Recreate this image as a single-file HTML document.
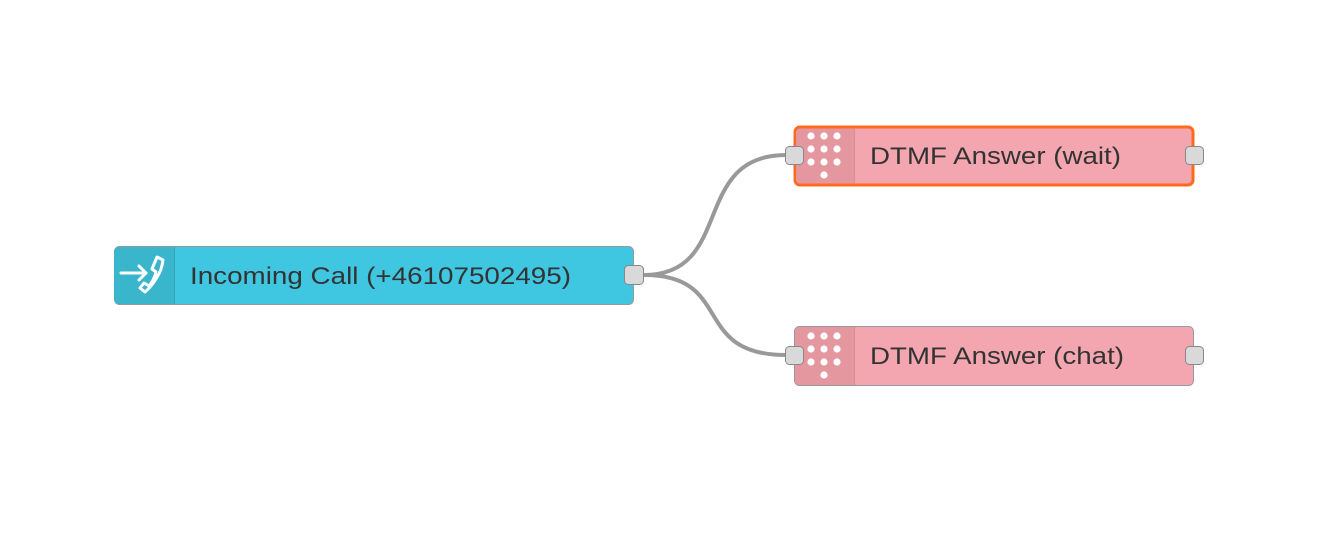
<!DOCTYPE html>
<html><head><meta charset="utf-8"><style>
html,body{margin:0;padding:0;background:#fff;width:1342px;height:538px;overflow:hidden}
text{font-family:"Liberation Sans",Helvetica,Arial,sans-serif}
</style></head><body>
<svg width="1342" height="538" viewBox="0 0 1342 538" xmlns="http://www.w3.org/2000/svg">
<g fill="none" stroke="#999" stroke-width="4">
<path d="M644,275 C 735,275 690,155 786,155"/>
<path d="M644,275 C 735,275 690,355 786,355"/>
</g>
<!-- Incoming call -->
<rect x="114.5" y="246.5" width="519" height="58" rx="5" fill="#3fc6e0" stroke="#999" stroke-width="1"/>
<path d="M119,247 h55 v57 h-55 a5,5 0 0 1 -5,-5 v-47 a5,5 0 0 1 5,-5z" fill="#39b5cc"/>
<line x1="174.5" y1="247" x2="174.5" y2="304" stroke="#33a6bc"/>
<g stroke="#fff" stroke-width="3" fill="none" stroke-linecap="round" stroke-linejoin="round">
<line x1="121" y1="273" x2="146" y2="273"/>
<polyline points="139,266 146,273 139,280"/>
<path d="M157,257 l6,3 q-1,10 -7,19 q-5,8 -11,13 l-5,-4 l4,-5 l5,3 q5,-6 7,-14 l-4,-3z"/>
</g>
<text x="190" y="284" font-size="24" fill="#333" textLength="381" lengthAdjust="spacingAndGlyphs">Incoming Call (+46107502495)</text>
<rect x="624.5" y="265.5" width="19" height="19" rx="4" fill="#d9d9d9" stroke="#888"/>
<!-- DTMF wait -->
<rect x="795" y="127" width="398" height="58" rx="5" fill="#f4a6b0" stroke="#ff6b1e" stroke-width="3"/>
<path d="M800,128.5 h54 v55 h-54 a4,4 0 0 1 -4,-4 v-47 a4,4 0 0 1 4,-4z" fill="#e5979f"/>
<line x1="854.5" y1="128" x2="854.5" y2="184" stroke="#d98c95"/>
<g fill="#fff">
<circle cx="811" cy="136" r="3.6"/><circle cx="824" cy="136" r="3.6"/><circle cx="837" cy="136" r="3.6"/>
<circle cx="811" cy="149" r="3.6"/><circle cx="824" cy="149" r="3.6"/><circle cx="837" cy="149" r="3.6"/>
<circle cx="811" cy="162" r="3.6"/><circle cx="824" cy="162" r="3.6"/><circle cx="837" cy="162" r="3.6"/>
<circle cx="824" cy="175" r="3.6"/>
</g>
<text x="870" y="164" font-size="24" fill="#333" textLength="251" lengthAdjust="spacingAndGlyphs">DTMF Answer (wait)</text>
<rect x="785.5" y="146.5" width="18" height="18" rx="4" fill="#d9d9d9" stroke="#888"/>
<rect x="1185.5" y="146.5" width="18" height="18" rx="4" fill="#d9d9d9" stroke="#888"/>
<!-- DTMF chat -->
<rect x="794.5" y="326.5" width="399" height="59" rx="5" fill="#f4a6b0" stroke="#999"/>
<path d="M800,327 h54 v58 h-54 a5,5 0 0 1 -5,-5 v-48 a5,5 0 0 1 5,-5z" fill="#e5979f"/>
<line x1="854.5" y1="327" x2="854.5" y2="385" stroke="#d98c95"/>
<g fill="#fff">
<circle cx="811" cy="336" r="3.6"/><circle cx="824" cy="336" r="3.6"/><circle cx="837" cy="336" r="3.6"/>
<circle cx="811" cy="349" r="3.6"/><circle cx="824" cy="349" r="3.6"/><circle cx="837" cy="349" r="3.6"/>
<circle cx="811" cy="362" r="3.6"/><circle cx="824" cy="362" r="3.6"/><circle cx="837" cy="362" r="3.6"/>
<circle cx="824" cy="375" r="3.6"/>
</g>
<text x="870" y="364" font-size="24" fill="#333" textLength="254" lengthAdjust="spacingAndGlyphs">DTMF Answer (chat)</text>
<rect x="785.5" y="346.5" width="18" height="18" rx="4" fill="#d9d9d9" stroke="#888"/>
<rect x="1185.5" y="346.5" width="18" height="18" rx="4" fill="#d9d9d9" stroke="#888"/>
</svg>
</body></html>
